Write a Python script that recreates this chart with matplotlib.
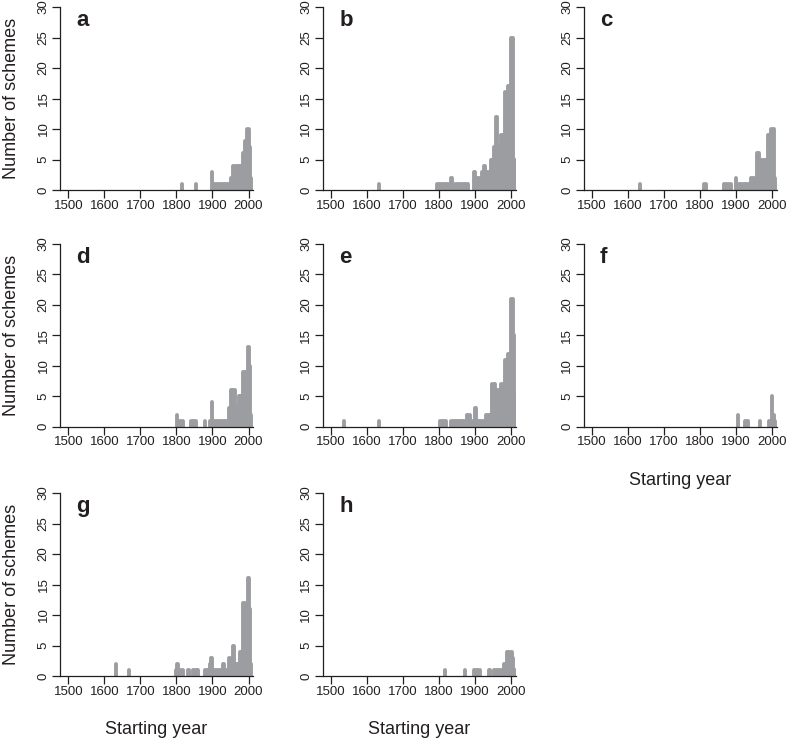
import matplotlib
matplotlib.use("Agg")
import matplotlib.pyplot as plt

plt.rcParams['font.family'] = ['Liberation Sans', 'DejaVu Sans']

# ---------------- data: starting year -> number of schemes ----------------
a_years  = [1816, 1854, 1900, 1904, 1908, 1912, 1916, 1920, 1924, 1928, 1932, 1936, 1940, 1944, 1948,
            1952, 1955, 1958, 1961, 1964, 1967, 1970, 1973, 1976, 1979, 1982,
            1985, 1988, 1991, 1994, 1997, 2000, 2003, 2006]
a_counts = [1, 1, 3, 1, 1, 1, 1, 1, 1, 1, 1, 1, 1, 1, 1,
            2, 2, 4, 4, 4, 4, 4, 4, 4, 4, 4,
            6, 6, 8, 8, 10, 10, 7, 2]

b_years  = [1634, 1795, 1799, 1803, 1807, 1812, 1816, 1820, 1824, 1832, 1836,
            1845, 1849, 1853, 1857, 1861, 1865, 1869, 1873, 1877, 1881,
            1897, 1900, 1904, 1908, 1912, 1918, 1921, 1924, 1928, 1932, 1936, 1940,
            1943, 1947, 1950, 1953, 1957, 1960, 1964, 1967, 1971, 1974, 1977, 1980,
            1984, 1987, 1990, 1993, 1996, 2000, 2003, 2006, 2010]
b_counts = [1, 1, 1, 1, 1, 1, 1, 1, 1, 2, 2,
            1, 1, 1, 1, 1, 1, 1, 1, 1, 1,
            3, 3, 2, 2, 2, 3, 3, 4, 4, 3, 3, 3,
            5, 5, 5, 7, 12, 12, 7, 7, 9, 9, 9, 9,
            16, 16, 17, 17, 16, 25, 25, 25, 5]

c_years  = [1634, 1810, 1815, 1866, 1870, 1875, 1880, 1885, 1899, 1905, 1910, 1914,
            1920, 1924, 1928, 1932, 1936, 1940, 1944, 1948, 1951,
            1957, 1961, 1964, 1968, 1972, 1976, 1980, 1983,
            1987, 1991, 1994, 1997, 2001, 2004, 2008, 2010]
c_counts = [1, 1, 1, 1, 1, 1, 1, 1, 2, 1, 1, 1,
            1, 1, 1, 1, 1, 2, 2, 2, 2,
            6, 6, 6, 5, 5, 5, 5, 5,
            9, 9, 9, 10, 10, 10, 2, 1]

d_years  = [1802, 1808, 1812, 1817, 1841, 1845, 1850, 1855, 1880, 1892, 1896, 1900,
            1904, 1908, 1912, 1916, 1920, 1924, 1928, 1932, 1936, 1940,
            1946, 1949, 1952, 1955, 1958, 1962, 1966, 1969,
            1973, 1976, 1979, 1982, 1985, 1988, 1991, 1994,
            1998, 2001, 2005, 2008]
d_counts = [2, 1, 1, 1, 1, 1, 1, 1, 1, 1, 1, 4,
            1, 1, 1, 1, 1, 1, 1, 1, 1, 1,
            3, 3, 6, 6, 6, 6, 3, 3,
            5, 5, 5, 5, 9, 9, 9, 9,
            13, 13, 10, 2]

e_years  = [1536, 1633, 1803, 1807, 1811, 1815, 1819,
            1834, 1838, 1842, 1846, 1850, 1854, 1858, 1862, 1866, 1870,
            1877, 1881, 1885, 1889, 1893, 1899, 1902,
            1906, 1910, 1914, 1918, 1922, 1926,
            1930, 1934, 1938, 1942, 1945, 1948, 1952, 1955,
            1958, 1962, 1966, 1969, 1972, 1976, 1979,
            1982, 1985, 1988, 1991, 1994, 1998, 2001, 2004, 2007, 2011]
e_counts = [1, 1, 1, 1, 1, 1, 1,
            1, 1, 1, 1, 1, 1, 1, 1, 1, 1,
            2, 2, 2, 1, 1, 3, 3,
            1, 1, 1, 1, 1, 1,
            2, 2, 2, 2, 2, 7, 7, 7,
            6, 6, 6, 6, 7, 7, 7,
            11, 11, 11, 12, 12, 21, 21, 21, 15, 5]

f_years  = [1906, 1925, 1929, 1933, 1965, 1992, 1996, 2000, 2004, 2008]
f_counts = [2, 1, 1, 1, 1, 1, 1, 5, 2, 1]

g_years  = [1633, 1669, 1798, 1802, 1805, 1812, 1817, 1831, 1836,
            1846, 1850, 1854, 1858, 1861, 1880, 1884, 1888, 1892, 1897, 1900,
            1904, 1908, 1912, 1916, 1920, 1924, 1929, 1933, 1938, 1942,
            1947, 1951, 1956, 1960, 1965, 1969, 1972, 1976, 1980,
            1984, 1988, 1992, 1995, 1998, 2001, 2004, 2008]
g_counts = [2, 1, 1, 2, 2, 1, 1, 1, 1,
            1, 1, 1, 1, 1, 1, 1, 1, 2, 3, 3,
            1, 1, 1, 1, 1, 1, 2, 2, 1, 1,
            3, 3, 5, 5, 2, 2, 2, 4, 4,
            12, 12, 12, 12, 16, 16, 11, 2]

h_years  = [1816, 1871, 1896, 1900, 1905, 1909, 1913, 1938, 1942,
            1952, 1956, 1960, 1964, 1968, 1972, 1976, 1980, 1983,
            1987, 1991, 1995, 1999, 2002, 2006, 2010]
h_counts = [1, 1, 1, 1, 1, 1, 1, 1, 1,
            1, 1, 1, 1, 1, 1, 1, 2, 2,
            4, 4, 4, 4, 4, 3, 1]

panel_labels = ['a', 'b', 'c', 'd', 'e', 'f', 'g', 'h']
x_ticks = [1500, 1600, 1700, 1800, 1900, 2000]
y_ticks = [0, 5, 10, 15, 20, 25, 30]
y_label = 'Number of schemes'
x_label = 'Starting year'

panels = [(a_years, a_counts), (b_years, b_counts), (c_years, c_counts),
          (d_years, d_counts), (e_years, e_counts), (f_years, f_counts),
          (g_years, g_counts), (h_years, h_counts)]

# ---------------- layout ----------------
W, H = 787, 741
fig = plt.figure(figsize=(W / 100, H / 100), dpi=100)

XMIN, XMAX = 1477, 2012
PX_PER_YEAR = 0.3605
ax_w = (XMAX - XMIN) * PX_PER_YEAR
ax_h = 183
col_left = [60, 322.7, 583.7]
row_base = [190, 426.7, 676]

bar_color = '#9c9da1'
axis_color = '#231f20'

xlabel_panels = {'f', 'g', 'h'}

for i, (yrs, cnts) in enumerate(panels):
    r, c = divmod(i, 3)
    left = col_left[c] / W
    bottom = 1 - row_base[r] / H
    ax = fig.add_axes([left, bottom, ax_w / W, ax_h / H])
    ax.vlines(yrs, 0, cnts, colors=bar_color, linewidth=2.8,
              capstyle='round', zorder=2)
    ax.set_xlim(XMIN, XMAX)
    ax.set_ylim(0, 30)
    for s in ('top', 'right'):
        ax.spines[s].set_visible(False)
    for s in ('left', 'bottom'):
        ax.spines[s].set_color(axis_color)
        ax.spines[s].set_linewidth(0.9)
        ax.spines[s].set_zorder(3)
    ax.set_xticks(x_ticks)
    ax.set_yticks(y_ticks)
    ax.tick_params(axis='both', direction='out', length=5.5, width=0.9,
                   color=axis_color, labelsize=9.5, labelcolor='#231f20')
    ax.tick_params(axis='x', pad=1.5)
    ax.tick_params(axis='y', pad=2, labelrotation=90)
    for lab in ax.get_yticklabels():
        lab.set_va('center')
    ax.text(0.085, 0.895, panel_labels[i], transform=ax.transAxes,
            fontsize=16, fontweight='bold', color='#231f20',
            ha='left', va='baseline')
    if c == 0:
        ax.set_ylabel(y_label, fontsize=13, color='#231f20', labelpad=13)
    if panel_labels[i] in xlabel_panels:
        ax.set_xlabel(x_label, fontsize=13, color='#231f20', labelpad=17)

fig.savefig('out.png', dpi=100)
